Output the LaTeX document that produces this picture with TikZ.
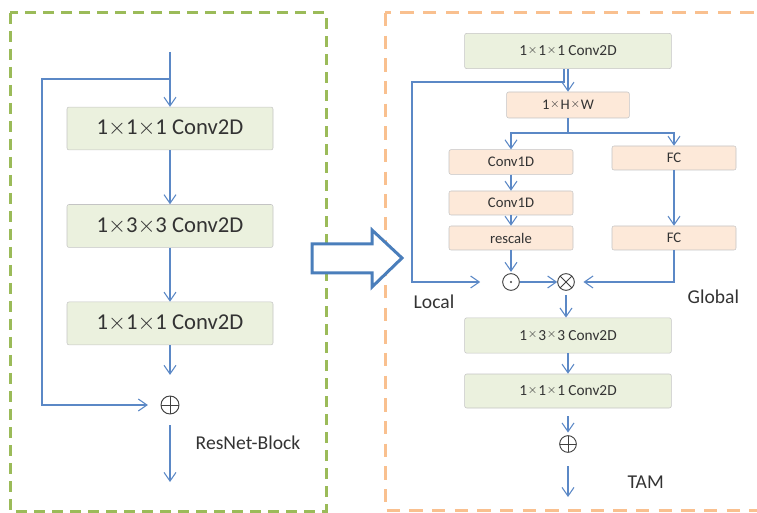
\documentclass[tikz,border=0pt]{standalone}
\usepackage{fontspec}
\setmainfont{Carlito}
\usetikzlibrary{arrows.meta,positioning}
\definecolor{lineblue}{HTML}{5B88C6}
\definecolor{bigblue}{HTML}{4A7EBB}
\definecolor{boxgray}{HTML}{C4C4C4}
\definecolor{gfill}{HTML}{EBF1DE}
\definecolor{ofill}{HTML}{FDE9D9}
\definecolor{gdash}{HTML}{9BBB59}
\definecolor{odash}{HTML}{F9C08F}
\definecolor{txt}{HTML}{333333}
\newcommand{\upx}{\kern0.6pt\raisebox{0.4ex}{\fontsize{9.5}{9}\selectfont$\times$}\kern0.6pt}

\begin{document}
\begin{tikzpicture}[x=0.75pt, y=-0.75pt, node distance=73.1pt,
  >={Straight Barb[length=6.5pt,width=9pt]},
  flow/.style = {draw=lineblue, line width=0.8pt},
  lbox/.style = {draw=boxgray, fill=gfill, rounded corners=1.5pt, text=txt,
    minimum width=154.5pt, minimum height=32.2pt, font=\fontsize{17}{20}\selectfont},
  rbox/.style = {draw=boxgray, fill=gfill, rounded corners=1.5pt, text=txt,
    minimum width=155pt, minimum height=26.5pt, font=\fontsize{11.5}{14}\selectfont},
  obox/.style = {draw=boxgray, fill=ofill, rounded corners=1.5pt, text=txt,
    minimum width=93pt, minimum height=18.5pt, font=\fontsize{11}{13}\selectfont},
  opnode/.style = {draw=black!75, circle, minimum size=12.5pt, inner sep=0pt, line width=0.7pt},
  plus/.style = {opnode, path picture={\draw[black!75, line width=0.7pt]
    (path picture bounding box.north) -- (path picture bounding box.south)
    (path picture bounding box.west) -- (path picture bounding box.east);}},
  times/.style = {opnode, path picture={\draw[black!75, line width=0.7pt]
    (path picture bounding box.north west) -- (path picture bounding box.south east)
    (path picture bounding box.north east) -- (path picture bounding box.south west);}},
  dotp/.style = {opnode, path picture={\fill[black!75] (path picture bounding box.center) circle (0.9pt);}},
  lbl/.style = {anchor=west, text=txt, font=\fontsize{14.7}{17}\selectfont}]
\useasboundingbox (0,0) rectangle (757,513);

% dashed frames
\draw[gdash, line width=2.25pt, dash pattern=on 8pt off 5.5pt] (10,13) rectangle (326,511);
\draw[odash, line width=2.25pt, dash pattern=on 10pt off 7pt] (385,13) rectangle (775,510);

% ResNet block
\coordinate (lin) at (170,52);
\node[lbox] (l1) at (170,128.5) {1$\times$1$\times$1 Conv2D};
\node[lbox] (l2) [below of=l1] {1$\times$3$\times$3 Conv2D};
\node[lbox] (l3) [below of=l2] {1$\times$1$\times$1 Conv2D};
\node[plus, minimum size=13.5pt] (lsum) at (170,405) {};
\coordinate (lout) at (170,482);
\coordinate (lsplit) at (170,79);
\coordinate (lleft) at (42,79);
\node[lbl] (resnet) at (191,443) {ResNet-Block};
\draw[flow,->] (lin) -- (l1);
\draw[flow,->] (l1) -- (l2);
\draw[flow,->] (l2) -- (l3);
\draw[flow,->, shorten >=15.5pt] (l3) -- (lsum);
\draw[flow,->, shorten >=9.5pt] (lsplit) -- (lleft) |- (lsum);
\draw[flow,->, shorten <=8pt] (lsum) -- (lout);

% big arrow
\draw[bigblue, fill=white, line width=2.25pt, line join=miter]
  (312,244) -- (372,244) -- (372,230) -- (402,258) -- (372,287) -- (372,273) -- (312,273) -- cycle;

% TAM
\node[rbox] (r1) at (568,51) {1\upx1\upx1 Conv2D};
\node[obox, minimum width=92pt, minimum height=19.5pt] (hw) at (568,105) {1\upx H\upx W};
\node[obox] (c1) at (511,162) {Conv1D};
\node[obox, minimum height=18pt] (c2) at (511,203) {Conv1D};
\node[obox, minimum height=18pt] (resc) at (511,238) {rescale};
\node[obox, minimum height=18pt] (fc1) at (674,158) {FC};
\node[obox, minimum height=18pt] (fc2) at (674,238) {FC};
\node[dotp] (odot) at (511,282) {};
\node[times] (otimes) at (566,282) {};
\node[rbox] (r3) at (568,335.5) {1\upx3\upx3 Conv2D};
\node[rbox, minimum height=25.5pt] (r4) at (568,391) {1\upx1\upx1 Conv2D};
\node[plus] (rsum) at (568,444) {};
\coordinate (rout) at (568,497);
\coordinate (rsplit) at (564,69);
\coordinate (rleft) at (412,82);
\coordinate (rfork) at (568,133);
\node[lbl] (local) at (409,302) {Local};
\node[lbl] (global) at (683,297) {Global};
\node[lbl] (tam) at (623,482) {TAM};
\draw[flow,->] (r1) -- (hw);
\draw[flow,->, shorten >=16.5pt] (rsplit) |- (rleft) |- (odot);
\draw[flow] (hw) -- (rfork);
\draw[flow,->] (rfork) -| (c1);
\draw[flow,->] (rfork) -| (fc1);
\draw[flow,->] (c1) -- (c2);
\draw[flow,->] (c2) -- (resc);
\draw[flow,->, shorten >=1pt] (resc) -- (odot);
\draw[flow,->] (fc1) -- (fc2);
\draw[flow,->] (odot) -- (otimes);
\draw[flow,->, shorten >=6.5pt] (fc2) |- (otimes);
\draw[flow,->, shorten <=3pt] (otimes) -- (otimes |- r3.north);
\draw[flow,->] (r3) -- (r4);
\draw[flow,->, shorten <=6pt, shorten >=2pt] (r4) -- (rsum);
\draw[flow,->, shorten <=10pt] (rsum) -- (rout);
\end{tikzpicture}
\end{document}
